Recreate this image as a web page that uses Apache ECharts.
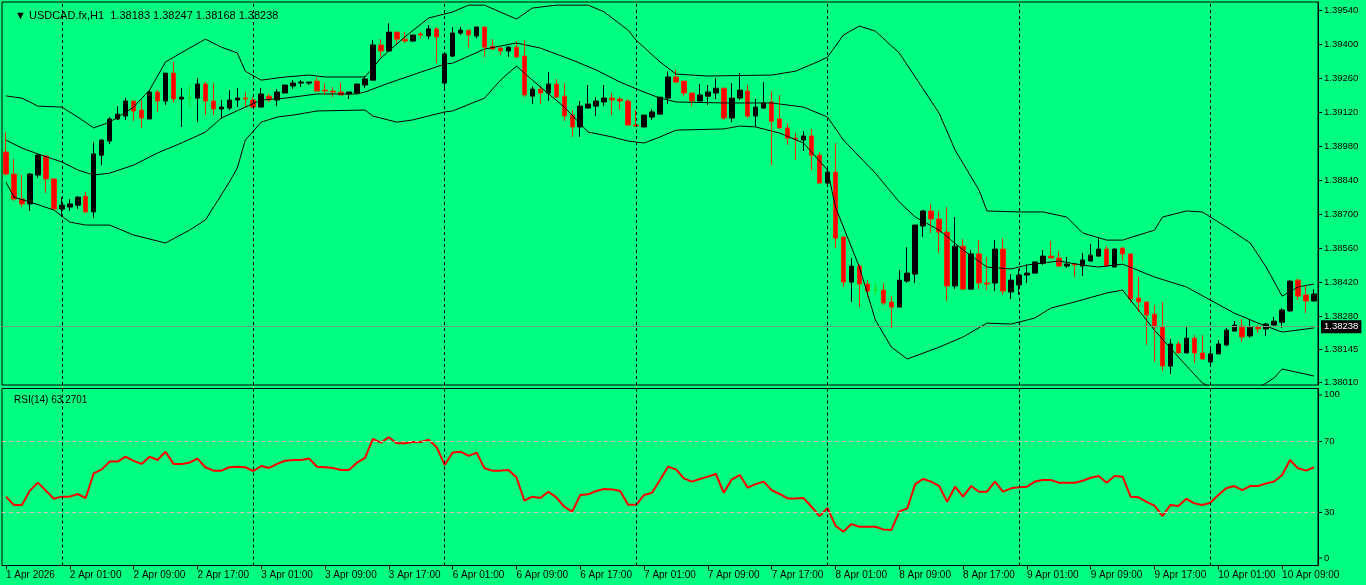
<!DOCTYPE html>
<html><head><meta charset="utf-8">
<script src="https://cdn.jsdelivr.net/npm/echarts@6/dist/echarts.min.js"></script>
<style>html,body{margin:0;padding:0;background:#00ff80;}#c{width:1366px;height:585px;}</style>
</head><body><div id="c"></div>
<script>
const titleText = '\u25BC USDCAD.fx,H1  1.38183 1.38247 1.38168 1.38238';
const rsiTitle = 'RSI(14) 63.2701';
const lastPrice = 1.38238;
const priceTicks = [1.3954,1.394,1.3926,1.3912,1.3898,1.3884,1.387,1.3856,1.3842,1.3828,1.38145,1.3801];
const rsiTicks = [70,30];
const rsiEdgeLabels = ['100','0'];
const dayStarts = [7,31,55,79,103,127,151];

const open = [1.38958,1.38867,1.38764,1.38744,1.38863,1.38941,1.38847,1.38723,1.38731,1.38739,
1.38776,1.38711,1.38945,1.39003,1.39094,1.39106,1.39168,1.39131,1.39094,1.39205,
1.39168,1.39283,1.39176,1.39180,1.39180,1.39238,1.39168,1.39135,1.39139,1.39172,
1.39180,1.39172,1.39143,1.39188,1.39172,1.39201,1.39230,1.39242,1.39242,1.39250,
1.39213,1.39209,1.39205,1.39197,1.39201,1.39234,1.39254,1.39399,1.39374,1.39452,
1.39423,1.39415,1.39444,1.39436,1.39465,1.39242,1.39353,1.39448,1.39460,1.39436,
1.39473,1.39394,1.39386,1.39374,1.39390,1.39353,1.39188,1.39217,1.39201,1.39238,
1.39188,1.39110,1.39061,1.39139,1.39147,1.39164,1.39180,1.39176,1.39168,1.39069,
1.39061,1.39102,1.39114,1.39180,1.39267,1.39250,1.39201,1.39168,1.39188,1.39201,
1.39221,1.39098,1.39180,1.39209,1.39106,1.39139,1.39164,1.39094,1.39057,1.39015,
1.39007,1.39024,1.38945,1.38830,1.38875,1.38608,1.38422,1.38488,1.38414,1.38389,
1.38389,1.38340,1.38319,1.38426,1.38455,1.38653,1.38715,1.38682,1.38628,1.38406,
1.38570,1.38393,1.38538,1.38418,1.38418,1.38558,1.38381,1.38410,1.38451,1.38459,
1.38500,1.38529,1.38521,1.38488,1.38496,1.38488,1.38509,1.38529,1.38558,1.38484,
1.38562,1.38538,1.38356,1.38340,1.38290,1.38237,1.38076,1.38167,1.38130,1.38191,
1.38130,1.38093,1.38126,1.38163,1.38220,1.38241,1.38200,1.38237,1.38229,1.38245,
1.38257,1.38303,1.38430,1.38369,1.38344];
const close = [1.38867,1.38764,1.38744,1.38867,1.38945,1.38847,1.38723,1.38739,1.38744,1.38772,
1.38711,1.38950,1.39007,1.39094,1.39114,1.39168,1.39127,1.39098,1.39205,1.39168,
1.39283,1.39176,1.39184,1.39180,1.39238,1.39168,1.39135,1.39143,1.39172,1.39180,
1.39176,1.39143,1.39197,1.39172,1.39205,1.39234,1.39242,1.39246,1.39246,1.39209,
1.39209,1.39205,1.39193,1.39205,1.39238,1.39259,1.39399,1.39374,1.39452,1.39423,
1.39415,1.39440,1.39440,1.39465,1.39432,1.39362,1.39448,1.39460,1.39440,1.39473,
1.39390,1.39382,1.39374,1.39390,1.39349,1.39193,1.39217,1.39201,1.39238,1.39184,
1.39106,1.39061,1.39147,1.39156,1.39168,1.39180,1.39172,1.39168,1.39069,1.39065,
1.39110,1.39123,1.39184,1.39267,1.39246,1.39201,1.39168,1.39193,1.39205,1.39221,
1.39098,1.39180,1.39213,1.39106,1.39143,1.39160,1.39085,1.39057,1.39015,1.39011,
1.39024,1.38945,1.38830,1.38875,1.38603,1.38422,1.38488,1.38414,1.38385,1.38389,
1.38336,1.38319,1.38430,1.38459,1.38657,1.38715,1.38682,1.38628,1.38406,1.38570,
1.38393,1.38538,1.38418,1.38414,1.38558,1.38385,1.38430,1.38451,1.38459,1.38505,
1.38529,1.38521,1.38488,1.38496,1.38492,1.38513,1.38533,1.38558,1.38488,1.38558,
1.38538,1.38352,1.38340,1.38286,1.38237,1.38076,1.38167,1.38130,1.38191,1.38130,
1.38105,1.38126,1.38167,1.38224,1.38245,1.38196,1.38237,1.38229,1.38249,1.38261,
1.38307,1.38426,1.38364,1.38344,1.38373];
const low = [1.38863,1.38756,1.38731,1.38715,1.38851,1.38789,1.38723,1.38690,1.38715,1.38723,
1.38706,1.38686,1.38904,1.38991,1.39090,1.39090,1.39085,1.39057,1.39094,1.39123,
1.39151,1.39160,1.39061,1.39143,1.39081,1.39110,1.39110,1.39094,1.39131,1.39143,
1.39143,1.39139,1.39143,1.39164,1.39147,1.39201,1.39217,1.39226,1.39234,1.39209,
1.39193,1.39184,1.39193,1.39176,1.39197,1.39221,1.39254,1.39349,1.39370,1.39403,
1.39407,1.39411,1.39427,1.39423,1.39324,1.39213,1.39349,1.39440,1.39390,1.39427,
1.39349,1.39382,1.39357,1.39349,1.39349,1.39184,1.39156,1.39156,1.39168,1.39184,
1.39085,1.39020,1.39020,1.39139,1.39106,1.39147,1.39110,1.39131,1.39069,1.39061,
1.39061,1.39090,1.39114,1.39156,1.39242,1.39188,1.39147,1.39168,1.39151,1.39176,
1.39090,1.39081,1.39172,1.39098,1.39061,1.39135,1.38904,1.39057,1.38987,1.38925,
1.38962,1.38884,1.38830,1.38814,1.38562,1.38402,1.38340,1.38319,1.38360,1.38369,
1.38327,1.38233,1.38319,1.38418,1.38418,1.38608,1.38624,1.38542,1.38344,1.38393,
1.38393,1.38393,1.38393,1.38389,1.38385,1.38369,1.38352,1.38369,1.38418,1.38459,
1.38492,1.38521,1.38484,1.38480,1.38443,1.38447,1.38505,1.38525,1.38488,1.38484,
1.38509,1.38336,1.38299,1.38163,1.38093,1.38055,1.38043,1.38126,1.38130,1.38088,
1.38105,1.38072,1.38126,1.38158,1.38220,1.38175,1.38191,1.38212,1.38200,1.38245,
1.38233,1.38299,1.38348,1.38294,1.38344];
const high = [1.39040,1.38929,1.38863,1.38871,1.38950,1.38945,1.38847,1.38772,1.38764,1.38776,
1.38793,1.38999,1.39011,1.39102,1.39147,1.39180,1.39168,1.39172,1.39213,1.39213,
1.39283,1.39329,1.39221,1.39234,1.39263,1.39246,1.39242,1.39172,1.39213,1.39221,
1.39205,1.39184,1.39221,1.39197,1.39217,1.39234,1.39254,1.39254,1.39246,1.39263,
1.39242,1.39226,1.39246,1.39205,1.39238,1.39271,1.39419,1.39423,1.39489,1.39452,
1.39452,1.39440,1.39452,1.39481,1.39473,1.39366,1.39473,1.39473,1.39460,1.39473,
1.39473,1.39423,1.39390,1.39394,1.39415,1.39419,1.39230,1.39230,1.39287,1.39259,
1.39242,1.39131,1.39168,1.39234,1.39184,1.39234,1.39201,1.39184,1.39176,1.39131,
1.39110,1.39135,1.39184,1.39291,1.39296,1.39250,1.39201,1.39238,1.39234,1.39263,
1.39221,1.39242,1.39283,1.39234,1.39176,1.39246,1.39209,1.39193,1.39077,1.39036,
1.39044,1.39053,1.38958,1.38900,1.38995,1.38608,1.38521,1.38496,1.38430,1.38422,
1.38418,1.38364,1.38472,1.38566,1.38657,1.38719,1.38744,1.38715,1.38731,1.38690,
1.38599,1.38554,1.38595,1.38525,1.38595,1.38603,1.38455,1.38476,1.38496,1.38505,
1.38554,1.38591,1.38550,1.38525,1.38496,1.38542,1.38579,1.38603,1.38570,1.38562,
1.38566,1.38538,1.38443,1.38340,1.38327,1.38340,1.38187,1.38179,1.38241,1.38204,
1.38204,1.38154,1.38183,1.38233,1.38261,1.38270,1.38270,1.38245,1.38253,1.38278,
1.38315,1.38430,1.38435,1.38406,1.38393];

const bbUpper = [[0,1.39189],[2,1.39180],[4,1.39147],[7,1.39143],[9,1.39102],[11,1.39057],[13,1.39081],[16,1.39143],[18,1.39213],[20,1.39329],[23,1.39386],[25,1.39423],[27,1.39390],[29,1.39366],[30,1.39291],[32,1.39254],[35,1.39267],[38,1.39275],[40,1.39267],[45,1.39267],[46,1.39304],[47,1.39345],[50,1.39432],[53,1.39510],[56,1.39535],[58,1.39563],[60,1.39563],[64,1.39506],[66,1.39551],[69,1.39563],[73,1.39563],[75,1.39535],[78,1.39460],[79,1.39419],[82,1.39329],[84,1.39279],[88,1.39271],[96,1.39275],[99,1.39291],[102,1.39333],[103,1.39349],[105,1.39440],[107,1.39477],[109,1.39456],[112,1.39366],[114,1.39267],[117,1.39118],[119,1.38966],[122,1.38801],[123,1.38715],[127,1.38711],[130,1.38711],[133,1.38690],[135,1.38624],[138,1.38595],[140,1.38595],[144,1.38636],[145,1.38690],[148,1.38715],[150,1.38711],[153,1.38649],[156,1.38583],[158,1.38484],[160,1.38364],[162,1.38402],[164,1.38414]];
const bbMiddle = [[0,1.39007],[2,1.38974],[4,1.38950],[7,1.38917],[9,1.38884],[11,1.38863],[13,1.38871],[16,1.38904],[19,1.38954],[22,1.38995],[25,1.39040],[27,1.39098],[30,1.39143],[32,1.39172],[35,1.39180],[39,1.39197],[44,1.39197],[45,1.39205],[48,1.39242],[52,1.39287],[55,1.39320],[56,1.39324],[60,1.39382],[64,1.39407],[67,1.39386],[71,1.39337],[74,1.39296],[77,1.39246],[80,1.39205],[82,1.39180],[84,1.39164],[90,1.39160],[96,1.39160],[100,1.39143],[103,1.39102],[105,1.39007],[109,1.38871],[112,1.38752],[114,1.38690],[117,1.38636],[120,1.38554],[123,1.38484],[126,1.38476],[128,1.38492],[132,1.38509],[135,1.38492],[137,1.38484],[140,1.38496],[144,1.38443],[148,1.38402],[151,1.38348],[154,1.38294],[157,1.38253],[160,1.38216],[164,1.38233]];
const bbLower = [[0,1.38834],[1,1.38772],[3,1.38752],[6,1.38719],[8,1.38669],[10,1.38657],[13,1.38657],[16,1.38616],[20,1.38583],[23,1.38636],[25,1.38678],[27,1.38781],[28,1.38834],[29,1.38892],[30,1.39007],[32,1.39081],[34,1.39102],[36,1.39110],[39,1.39127],[45,1.39131],[46,1.39106],[49,1.39081],[51,1.39090],[55,1.39123],[56,1.39127],[60,1.39180],[62,1.39254],[64,1.39312],[66,1.39254],[70,1.39143],[73,1.39040],[76,1.39020],[78,1.39003],[80,1.38995],[82,1.39020],[84,1.39048],[90,1.39053],[92,1.39065],[94,1.39061],[97,1.39036],[100,1.38995],[103,1.38884],[104,1.38731],[107,1.38484],[109,1.38266],[111,1.38154],[112,1.38130],[113,1.38105],[117,1.38154],[120,1.38196],[123,1.38253],[126,1.38249],[129,1.38274],[131,1.38315],[134,1.38340],[138,1.38377],[140,1.38389],[144,1.38224],[147,1.38113],[150,1.38006],[153,1.37957],[156,1.37965],[159,1.38027],[160,1.38064],[164,1.38035]];

const rsi = [38.9,34.2,34.2,42.3,46.8,42.3,37.7,38.9,38.9,40.4,
38.1,52.1,54.3,58.7,58.7,61.5,59.1,57.4,61.5,59.6,
64.3,57.4,57.4,58.1,60.4,55.5,53.6,53.6,55.5,55.8,
55.5,53.4,56.2,55.1,57.4,59.2,59.6,59.6,60.4,55.8,
55.5,55.1,54.0,54.0,58.1,60.6,71.5,69.4,72.5,69.1,
69.1,69.8,69.8,71.0,66.8,56.8,63.8,64.3,61.9,63.8,
54.9,53.6,53.6,54.0,49.8,36.6,38.9,38.1,41.7,38.5,
33.2,30.4,39.8,40.2,42.1,43.2,43.0,42.1,34.3,34.3,
39.8,41.1,48.3,55.8,54.3,49.2,47.4,48.9,50.2,51.7,
41.1,48.7,51.1,44.0,46.0,47.4,42.6,40.4,37.9,37.9,
38.1,33.2,27.9,32.5,22.5,19.1,23.4,21.9,21.9,21.9,
20.4,20.0,30.4,32.3,46.0,48.9,47.4,44.9,36.0,44.5,
38.9,44.9,41.7,41.7,47.4,41.7,43.6,44.2,44.5,47.4,
48.3,48.3,46.8,46.8,46.8,47.9,49.6,50.6,46.8,50.6,
50.2,38.9,38.5,36.0,33.8,27.9,34.2,33.6,37.7,35.1,
34.2,35.5,39.8,43.6,44.9,42.6,44.9,44.9,46.4,47.4,
51.1,59.6,54.9,53.6,55.5];

// hourly categories, weekend gap after bar 54
const categories = [];
const t0 = Date.UTC(2026,3,1,17);
for (let i = 0; i < open.length; i++) {
  const d = new Date(t0 + (i + (i >= 55 ? 48 : 0)) * 3600e3);
  const hh = String(d.getUTCHours()).padStart(2,'0');
  categories.push(i === 0 ? '1 Apr 2026' : d.getUTCDate() + ' Apr ' + hh + ':00');
}
const ohlc = open.map((o,i) => [o, close[i], low[i], high[i]]);

const FONT = 'Liberation Sans';
const dash = {color: '#000', type: [3,3], width: 1};
const everyEight = (idx) => idx % 8 === 0;
const chart = echarts.init(document.getElementById('c'));
chart.setOption({
  animation: false,
  backgroundColor: '#00ff80',
  title: [
    {text: titleText, left: 10, top: 5, textStyle: {fontFamily: FONT, fontSize: 11, fontWeight: 'normal', color: '#000'}},
    {text: rsiTitle, left: 9, top: 390, textStyle: {fontFamily: FONT, fontSize: 10, fontWeight: 'normal', color: '#000'}}
  ],
  graphic: [
    {type: 'text', left: 1324, top: 389, style: {text: rsiEdgeLabels[0], fill: '#000', font: '9.5px "Liberation Sans"'}},
    {type: 'text', left: 1324, top: 553, style: {text: rsiEdgeLabels[1], fill: '#000', font: '9.5px "Liberation Sans"'}},
    {type: 'line', shape: {x1: 1318, y1: 395, x2: 1322, y2: 395}, style: {stroke: '#000', lineWidth: 1}},
    {type: 'line', shape: {x1: 1318, y1: 558, x2: 1322, y2: 558}, style: {stroke: '#000', lineWidth: 1}}
  ],
  grid: [
    {left: 2, top: 2, width: 1316, height: 383, show: true, borderColor: '#000', borderWidth: 1, backgroundColor: 'transparent'},
    {left: 2, top: 388.5, width: 1316, height: 177, show: true, borderColor: '#000', borderWidth: 1, backgroundColor: 'transparent'}
  ],
  xAxis: [
    {type: 'category', gridIndex: 0, data: categories, boundaryGap: true,
     axisLine: {show: false}, axisTick: {show: false}, axisLabel: {show: false}, splitLine: {show: false}},
    {type: 'category', gridIndex: 1, data: categories, boundaryGap: true,
     axisLine: {show: true, lineStyle: {color: '#000'}},
     axisTick: {show: true, interval: everyEight, alignWithLabel: true, length: 4, lineStyle: {color: '#000'}},
     axisLabel: {show: true, interval: everyEight, align: 'left', margin: 5, color: '#000', fontFamily: FONT, fontSize: 10},
     splitLine: {show: false}}
  ],
  yAxis: [
    {type: 'value', gridIndex: 0, position: 'right', min: 1.37998, max: 1.39576, scale: true,
     axisLine: {show: true, lineStyle: {color: '#000'}},
     axisTick: {show: true, customValues: priceTicks, length: 4, lineStyle: {color: '#000'}},
     axisLabel: {show: true, customValues: priceTicks, color: '#000', fontFamily: FONT, fontSize: 9.5, margin: 6,
       formatter: v => v.toFixed(5)},
     splitLine: {show: false}},
    {type: 'value', gridIndex: 1, position: 'right', min: 0, max: 100,
     axisLine: {show: true, lineStyle: {color: '#000'}},
     axisTick: {show: true, customValues: rsiTicks, length: 4, lineStyle: {color: '#000'}},
     axisLabel: {show: true, customValues: rsiTicks, color: '#000', fontFamily: FONT, fontSize: 9.5, margin: 6},
     splitLine: {show: false}}
  ],
  series: [
    {type: 'candlestick', xAxisIndex: 0, yAxisIndex: 0, data: ohlc, barWidth: 5, clip: true,
     itemStyle: {color: '#000000', color0: '#ff0000', borderColor: '#000000', borderColor0: '#e83000',
       borderColorDoji: '#22dd22', borderWidth: 1},
     markLine: {silent: true, symbol: 'none', animation: false, precision: 5,
       data: [
         ...dayStarts.map(i => ({xAxis: categories[i], lineStyle: dash, label: {show: false}})),
         {yAxis: lastPrice, lineStyle: {color: '#6f9f80', type: 'solid', width: 1},
          label: {show: true, position: 'end', distance: 3, formatter: () => lastPrice.toFixed(5),
            backgroundColor: '#000', color: '#fff', fontFamily: FONT, fontSize: 9.5, padding: [2,3,1,3]}}
       ]}},
    {type: 'line', xAxisIndex: 0, yAxisIndex: 0, data: bbUpper, showSymbol: false, symbol: 'none', clip: true,
     lineStyle: {color: '#000', width: 1}, silent: true},
    {type: 'line', xAxisIndex: 0, yAxisIndex: 0, data: bbMiddle, showSymbol: false, symbol: 'none', clip: true,
     lineStyle: {color: '#000', width: 1}, silent: true},
    {type: 'line', xAxisIndex: 0, yAxisIndex: 0, data: bbLower, showSymbol: false, symbol: 'none', clip: true,
     lineStyle: {color: '#000', width: 1}, silent: true},
    {type: 'line', xAxisIndex: 1, yAxisIndex: 1, data: rsi, showSymbol: false, symbol: 'none',
     lineStyle: {color: '#ff0000', width: 2}, silent: true,
     markLine: {silent: true, symbol: 'none', animation: false, label: {show: false},
       data: [
         ...dayStarts.map(i => ({xAxis: categories[i], lineStyle: dash})),
         {yAxis: 70, lineStyle: {color: '#d8c0c0', type: [4,3], width: 1}},
         {yAxis: 30, lineStyle: {color: '#d8c0c0', type: [4,3], width: 1}}
       ]}}
  ]
});
</script></body></html>
